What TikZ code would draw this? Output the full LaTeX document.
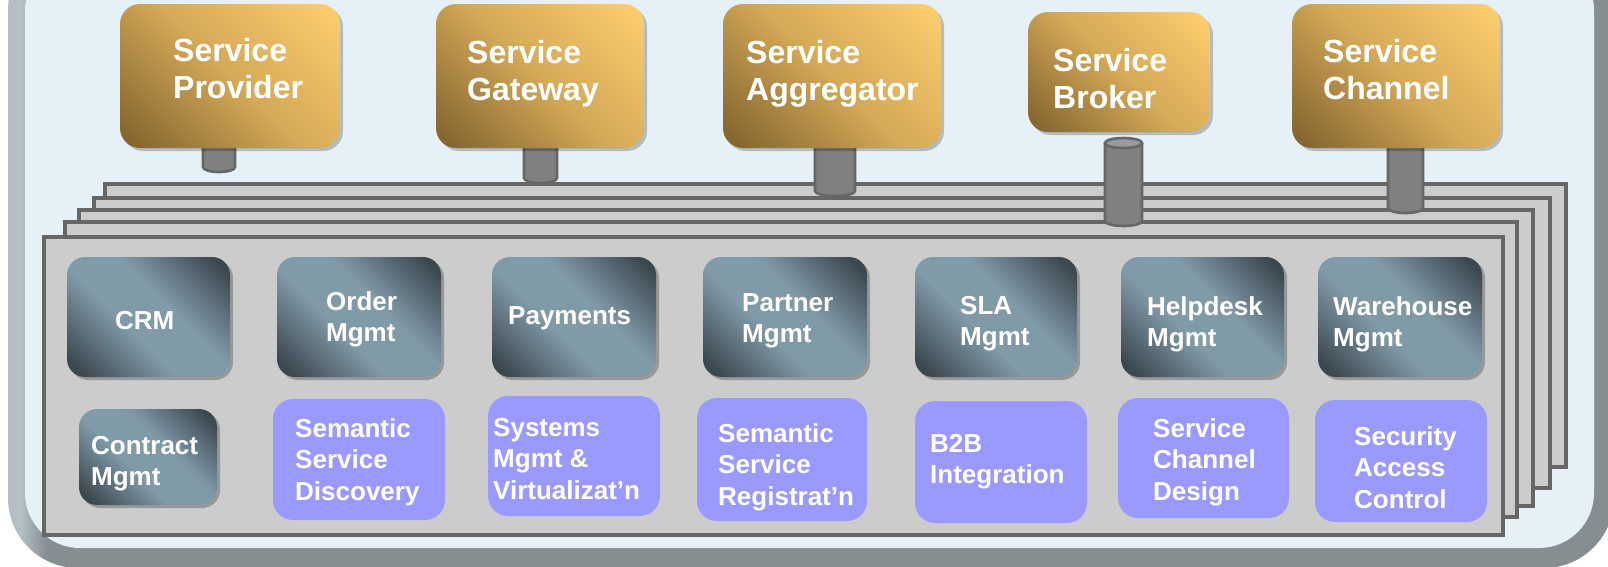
\documentclass[tikz,border=0pt]{standalone}
\usepackage{fontspec}
\setmainfont{Liberation Sans}
\usetikzlibrary{shadows}
\definecolor{frameG}{HTML}{868E92}
\definecolor{frameL}{HTML}{B3BEC5}
\definecolor{frameB}{HTML}{E5F0F7}
\definecolor{layerF}{HTML}{CCCCCC}
\definecolor{layerD}{HTML}{666666}
\definecolor{pipeF}{HTML}{808080}
\definecolor{pipeTop}{HTML}{9A9A9A}
\definecolor{purp}{HTML}{9999FF}
\definecolor{gdark}{HTML}{86672F}
\definecolor{gmid}{HTML}{D4A958}
\definecolor{glight}{HTML}{FBCC6C}
\definecolor{ddark}{HTML}{3C4850}
\definecolor{dlight}{HTML}{819AA8}
\pgfdeclarehorizontalshading{goldsh}{100bp}{color(0bp)=(gdark); color(18bp)=(gdark); color(50bp)=(gmid); color(82bp)=(glight); color(100bp)=(glight)}
\pgfdeclarehorizontalshading{darksh}{100bp}{color(0bp)=(ddark); color(19bp)=(ddark); color(42bp)=(dlight); color(58bp)=(dlight); color(81bp)=(ddark); color(100bp)=(ddark)}
\pgfdeclarehorizontalshading{framesh}{100bp}{color(0bp)=(frameL); color(25.4bp)=(frameL); color(26.2bp)=(frameG); color(100bp)=(frameG)}
\newcommand{\pipeshape}[4]{%
  \pgfmathsetmacro{\prx}{(#2-#1)/2}%
  \draw[pipe] (#1,-#3) -- (#1,-#4+5) arc[start angle=180,end angle=360,x radius=\prx pt,y radius=5pt] -- (#2,-#3);}
\begin{document}
\begin{tikzpicture}[x=1pt,y=1pt,
  layer/.style={draw=layerD, fill=layerF, line width=3.6pt},
  pipe/.style={draw=layerD, fill=pipeF, line width=2.6pt},
  gold/.style={shade, shading=goldsh, shading angle=45, rounded corners=20pt, inner sep=0pt,
    drop shadow={shadow xshift=3pt, shadow yshift=-3pt, opacity=0.22, fill=black}},
  dark/.style={shade, shading=darksh, shading angle=45, rounded corners=18pt, inner sep=0pt,
    drop shadow={shadow xshift=3pt, shadow yshift=-3pt, opacity=0.25, fill=black}},
  purple/.style={fill=purp, rounded corners=20pt, inner sep=0pt},
  gtext/.style={anchor=north west, inner sep=0pt, align=left, text=white, font=\fontsize{32}{37.5}\selectfont\bfseries},
  btext/.style={anchor=north west, inner sep=0pt, align=left, text=white, font=\fontsize{26}{31.5}\selectfont\bfseries}]
\useasboundingbox (0,0) rectangle (1608,-566);
\clip (0,0) rectangle (1608,-566);
% outer frame
\path[shade, shading=framesh, rounded corners=70pt] (8,60) rectangle (1614,-568);
\fill[frameB, rounded corners=55pt] (25,45) rectangle (1594,-548);
% stacked layers
\draw[layer] (105,-184) rectangle (1566,-467);
\draw[layer] (94,-198) rectangle (1550,-488);
\draw[layer] (79,-210) rectangle (1533,-506);
\draw[layer] (65,-222) rectangle (1517,-517);
\draw[layer] (44,-237) rectangle (1503,-535);
% pipes
\pipeshape{203}{235}{140}{172}
\pipeshape{524}{557}{140}{183}
\pipeshape{815}{855}{140}{196}
\pipeshape{1105}{1142}{143}{226}
\draw[pipe, fill=pipeTop] (1123.5,-143) ellipse[x radius=18.5pt, y radius=5pt];
\pipeshape{1388}{1423}{140}{213}
% gold boxes
\node[gold, minimum width=220pt, minimum height=144pt] (prov) at (230,-76) {};
\node[gold, minimum width=208pt, minimum height=144pt] (gate) at (540,-76) {};
\node[gold, minimum width=218pt, minimum height=144pt] (aggr) at (832,-76) {};
\node[gold, minimum width=182pt, minimum height=120pt] (brok) at (1119,-72) {};
\node[gold, minimum width=208pt, minimum height=144pt] (chan) at (1396,-76) {};
\node[gtext] (provT) at (173,-38) {Service\\Provider};
\node[gtext] (gateT) at (467,-40) {Service\\Gateway};
\node[gtext] (aggrT) at (746,-40) {Service\\Aggregator};
\node[gtext] (brokT) at (1053,-48) {Service\\Broker};
\node[gtext] (chanT) at (1323,-39) {Service\\Channel};
% top row dark boxes
\node[dark, minimum width=163pt, minimum height=120pt] (crm) at (148.5,-317) {};
\node[dark, minimum width=164pt, minimum height=120pt] (order) at (359,-317) {};
\node[dark, minimum width=164pt, minimum height=120pt] (pay) at (574,-317) {};
\node[dark, minimum width=164pt, minimum height=120pt] (partner) at (785,-317) {};
\node[dark, minimum width=162pt, minimum height=120pt] (sla) at (996,-317) {};
\node[dark, minimum width=163pt, minimum height=120pt] (help) at (1202.5,-317) {};
\node[dark, minimum width=164pt, minimum height=120pt] (ware) at (1400,-317) {};
% second row
\node[dark, minimum width=138pt, minimum height=96pt] (contract) at (148,-457) {};
\node[purple, minimum width=172pt, minimum height=121pt] (ssd) at (359,-459.5) {};
\node[purple, minimum width=172pt, minimum height=120pt] (sysm) at (574,-456) {};
\node[purple, minimum width=170pt, minimum height=123pt] (ssr) at (782,-459.5) {};
\node[purple, minimum width=172pt, minimum height=122pt] (b2b) at (1001,-462) {};
\node[purple, minimum width=171pt, minimum height=120pt] (scd) at (1203.5,-458) {};
\node[purple, minimum width=172pt, minimum height=122pt] (sac) at (1401,-461) {};
% texts
\node[btext] (crmT) at (115,-311) {CRM};
\node[btext] (orderT) at (326,-291) {Order\\Mgmt};
\node[btext] (payT) at (508,-306) {Payments};
\node[btext] (partnerT) at (742,-293) {Partner\\Mgmt};
\node[btext] (slaT) at (960,-296) {SLA\\Mgmt};
\node[btext] (helpT) at (1147,-296) {Helpdesk\\Mgmt};
\node[btext] (wareT) at (1333,-296) {Warehouse\\Mgmt};
\node[btext] (contractT) at (91,-436) {Contract\\Mgmt};
\node[btext] (ssdT) at (295,-418) {Semantic\\Service\\Discovery};
\node[btext] (sysmT) at (493,-418) {Systems\\Mgmt \&\\Virtualizat’n};
\node[btext] (ssrT) at (718,-423) {Semantic\\Service\\Registrat’n};
\node[btext] (b2bT) at (930,-434) {B2B\\Integration};
\node[btext] (scdT) at (1153,-418) {Service\\Channel\\Design};
\node[btext] (sacT) at (1354,-426) {Security\\Access\\Control};
\end{tikzpicture}
\end{document}
